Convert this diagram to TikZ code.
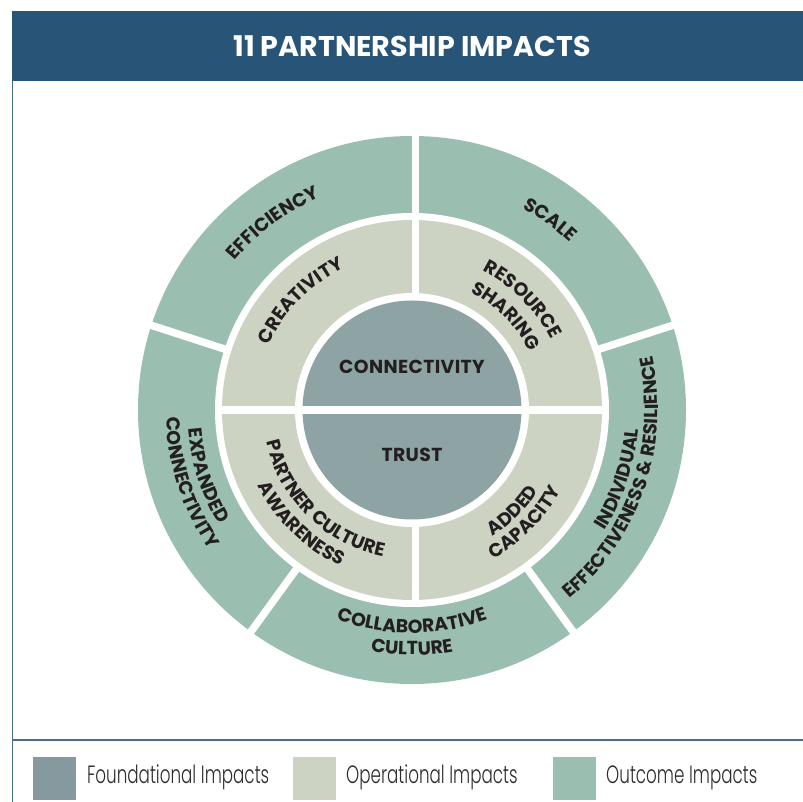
\documentclass[tikz,border=0pt]{standalone}
\usepackage{fontspec}
\setmainfont{Poppins}
\newfontfamily\lblfont{Poppins}[UprightFont=* Bold, LetterSpace=2]
\newfontfamily\legfont{Poppins}[UprightFont=* Light, FakeStretch=0.67]
\newfontfamily\ttlfont{Poppins}[UprightFont=* Bold]
\usetikzlibrary{decorations.text}
\definecolor{hdr}{HTML}{285478}
\definecolor{framec}{HTML}{4A6D8C}
\definecolor{outc}{HTML}{9ABEAF}
\definecolor{oper}{HTML}{CDD3C2}
\definecolor{found}{HTML}{8EA4A4}
\definecolor{foundleg}{HTML}{86999F}
\definecolor{ink}{HTML}{231F20}
\definecolor{legink}{HTML}{2B2B2B}
\newcommand{\lblsize}{\lblfont\fontsize{18.8}{20}\selectfont}
% clockwise arc label (letter tops outward): angle, radius, half span, text
\newcommand{\cwlabel}[4]{\path[decorate,decoration={text along path,text align=center,text color=ink,text={|\lblsize|#4}}] (#1+#3:#2) arc[start angle=#1+#3,end angle=#1-#3,radius=#2];}
% counter-clockwise arc label (letter tops inward)
\newcommand{\ccwlabel}[4]{\path[decorate,decoration={text along path,text align=center,text color=ink,text={|\lblsize|#4}}] (#1-#3:#2) arc[start angle=#1-#3,end angle=#1+#3,radius=#2];}
\tikzset{
  sep/.style={draw=white,line width=7.5pt},
  framel/.style={draw=framec,line width=1.2pt},
  legsq/.style={minimum width=43pt,minimum height=43pt,inner sep=0pt,draw=none},
  legtxt/.style={anchor=base west,inner sep=0pt,text=legink,font=\legfont\fontsize{25}{28}\selectfont},
  midtxt/.style={anchor=base,inner sep=0pt,text=ink,font=\lblsize}
}
\begin{document}
\begin{tikzpicture}[x=1pt,y=1pt]
\useasboundingbox (0,0) rectangle (803,802);
% header
\fill[hdr] (12,721.3) rectangle (803,791);
\node[anchor=base,inner sep=0pt,text=white,font=\ttlfont\fontsize{28.5}{30}\selectfont] (title) at (412,745) {11 PARTNERSHIP IMPACTS};
\draw[framel] (12.6,721.3) -- (12.6,0);
\draw[framel] (12.6,62) -- (803,62);
% rings
\begin{scope}[shift={(412,392)}]
\fill[outc] (0,0) circle[radius=274];
\fill[white] (0,0) circle[radius=197];
\fill[oper] (0,0) circle[radius=190];
\fill[white] (0,0) circle[radius=117];
\fill[found] (0,0) circle[radius=109.5];
\draw[sep,line width=8pt] (-195,0) -- (195,0);
\draw[sep] (3.5,112) -- (3.5,280);
\draw[sep] (3.5,-112) -- (3.5,-195);
\foreach \a in {18,-54,-126,162} \draw[sep] (\a:192) -- (\a:280);
% centre labels
\node[midtxt] (conn) at (0,36.7) {CONNECTIVITY};
\node[midtxt] (trust) at (0,-51.7) {TRUST};
% middle ring
\cwlabel{135.5}{157}{44}{CREATIVITY}
\cwlabel{45}{156}{44}{RESOURCE}
\cwlabel{45}{131}{44}{SHARING}
\ccwlabel{-45}{150}{44}{ADDED}
\ccwlabel{-45}{169.5}{44}{CAPACITY}
\ccwlabel{-134.4}{149}{44}{PARTNER CULTURE}
\ccwlabel{-134.2}{171.5}{44}{AWARENESS}
% outer ring
\cwlabel{126.6}{231.5}{35}{EFFICIENCY}
\cwlabel{54}{230}{35}{SCALE}
\ccwlabel{-18.5}{227}{35}{INDIVIDUAL}
\ccwlabel{-18.7}{246}{35}{EFFECTIVENESS {\&} RESILIENCE}
\ccwlabel{-90}{223}{35}{COLLABORATIVE}
\ccwlabel{-90}{245}{35}{CULTURE}
\ccwlabel{-162.3}{224.5}{35}{EXPANDED}
\ccwlabel{-161.8}{246}{35}{CONNECTIVITY}
\end{scope}
% legend
\node[legsq,fill=foundleg] (sq1) at (54.5,23.5) {};
\node[legsq,fill=oper] (sq2) at (314.5,23.5) {};
\node[legsq,fill=outc] (sq3) at (574.5,23.5) {};
\node[legtxt] (lt1) at (87,18) {Foundational Impacts};
\node[legtxt] (lt2) at (346,18) {Operational Impacts};
\node[legtxt] (lt3) at (606,18) {Outcome Impacts};
\end{tikzpicture}
\end{document}
